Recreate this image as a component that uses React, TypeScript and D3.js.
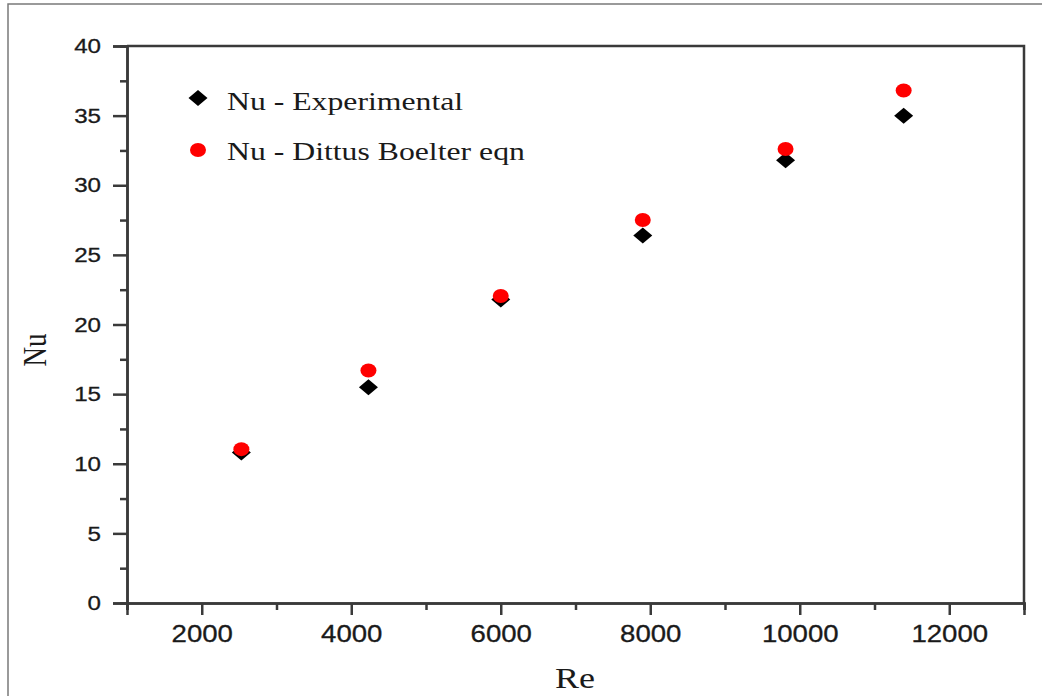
import React, { useEffect, useRef } from "react";
import * as d3 from "d3";

// Reynolds numbers of the runs
const reValues = [2530, 4230, 6000, 7900, 9810, 11390];
// measured Nusselt numbers
const nuExperimental = [10.8, 15.5, 21.8, 26.4, 31.8, 35.0];
// Nusselt numbers from the Dittus Boelter equation
const nuDittusBoelter = [11.05, 16.7, 22.05, 27.5, 32.6, 36.8];

const xMajorTicks = [2000, 4000, 6000, 8000, 10000, 12000];
const xMinorTicks = [1000, 3000, 5000, 7000, 9000, 11000, 13000];
const yMajorTicks = [0, 5, 10, 15, 20, 25, 30, 35, 40];
const yMinorTicks = [2.5, 7.5, 12.5, 17.5, 22.5, 27.5, 32.5, 37.5];

const legendLabels = ["Nu - Experimental", "Nu - Dittus Boelter eqn"];

const width = 1042;
const height = 696;

const App = () => {
    const svgRef = useRef<SVGSVGElement>(null);

    useEffect(() => {
        const svg = d3.select(svgRef.current);
        svg.selectAll("*").remove();

        const axisColor = "#3a3a3a";
        const textColor = "#1a1a1a";
        const stretch = 1.15;

        const x = d3.scaleLinear().domain([1000, 13000]).range([127, 1024]);
        const y = d3.scaleLinear().domain([0, 40]).range([603, 46]);

        // outer frame of the figure
        svg.append("path")
            .attr("d", `M8,${height + 2} L8,4 L${width + 2},4`)
            .attr("fill", "none")
            .attr("stroke", "#7a7a7a")
            .attr("stroke-width", 1.5);

        // box around the plot
        svg.append("path")
            .attr("d", `M${x(1000)},${y(40)} L${x(13000)},${y(40)} L${x(13000)},${y(0)}`)
            .attr("fill", "none")
            .attr("stroke", axisColor)
            .attr("stroke-width", 2.5);

        // x axis
        const xAxisG = svg.append("g").attr("transform", `translate(0,${y(0)})`);
        xAxisG.append("g").call(
            d3.axisBottom(x).tickValues(xMinorTicks).tickSize(7).tickFormat(() => "")
        );
        const xMajor = xAxisG.append("g").call(
            d3.axisBottom(x).tickValues(xMajorTicks).tickSize(12).tickPadding(10).tickFormat(d3.format("d"))
        );
        xMajor.selectAll("text")
            .attr("font-family", "'Liberation Sans', Arial, sans-serif")
            .attr("font-size", 24)
            .attr("fill", textColor)
            .attr("stroke", textColor)
            .attr("stroke-width", 0.3)
            .attr("transform", `scale(${stretch},1)`);

        // y axis
        const yAxisG = svg.append("g").attr("transform", `translate(${x(1000)},0)`);
        yAxisG.append("g").call(
            d3.axisLeft(y).tickValues(yMinorTicks).tickSize(7).tickFormat(() => "")
        );
        const yMajor = yAxisG.append("g").call(
            d3.axisLeft(y).tickValues(yMajorTicks).tickSize(14).tickPadding(12).tickFormat(d3.format("d"))
        );
        yMajor.selectAll("text")
            .attr("font-family", "'Liberation Sans', Arial, sans-serif")
            .attr("font-size", 21)
            .attr("fill", textColor)
            .attr("stroke", textColor)
            .attr("stroke-width", 0.3)
            .attr("x", -26 / stretch)
            .attr("transform", `scale(${stretch},1)`);

        svg.selectAll(".domain").attr("stroke", axisColor).attr("stroke-width", 2.5);
        svg.selectAll(".tick line").attr("stroke", axisColor).attr("stroke-width", 2.5);

        // axis titles
        svg.append("text")
            .attr("transform", `translate(575,688) scale(1.2,1)`)
            .attr("text-anchor", "middle")
            .attr("font-family", "'Liberation Serif', 'Times New Roman', serif")
            .attr("font-size", 30)
            .attr("fill", textColor)
            .text("Re");
        svg.append("text")
            .attr("transform", `translate(46,350) rotate(-90) scale(1,1.25)`)
            .attr("text-anchor", "middle")
            .attr("font-family", "'Liberation Serif', 'Times New Roman', serif")
            .attr("font-size", 27)
            .attr("fill", textColor)
            .text("Nu");

        const diamond = "M0,-8 L9.5,0 L0,8 L-9.5,0 Z";

        // data points
        svg.append("g").selectAll("path")
            .data(reValues)
            .join("path")
            .attr("d", diamond)
            .attr("transform", (d, i) => `translate(${x(d)},${y(nuExperimental[i])})`)
            .attr("fill", "#000");

        svg.append("g").selectAll("ellipse")
            .data(reValues)
            .join("ellipse")
            .attr("cx", d => x(d))
            .attr("cy", (d, i) => y(nuDittusBoelter[i]))
            .attr("rx", 8)
            .attr("ry", 7)
            .attr("fill", "#f00");

        // legend
        const legend = svg.append("g");
        legend.append("path").attr("d", diamond).attr("transform", "translate(198,98)").attr("fill", "#000");
        legend.append("ellipse").attr("cx", 198).attr("cy", 150).attr("rx", 8).attr("ry", 7).attr("fill", "#f00");
        legend.selectAll("text")
            .data(legendLabels)
            .join("text")
            .attr("transform", (d, i) => `translate(227,${110 + i * 50}) scale(1.27,1)`)
            .attr("font-family", "'Liberation Serif', 'Times New Roman', serif")
            .attr("font-size", 25)
            .attr("fill", textColor)
            .text(d => d);
    }, []);

    return (
        <svg
            ref={svgRef}
            width={width}
            height={height}
            style={{ position: "absolute", left: 0, top: 0, background: "#fff" }}
        />
    );
};

export default App;
